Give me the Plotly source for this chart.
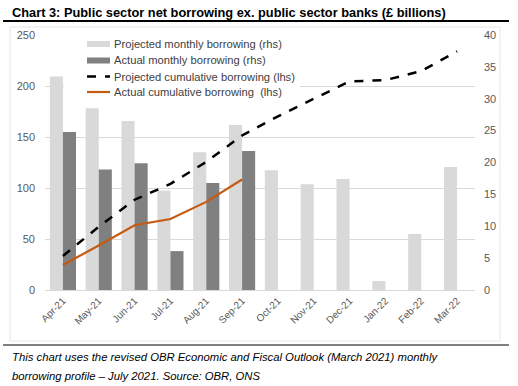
import plotly.graph_objects as go

months = ["Apr-21", "May-21", "Jun-21", "Jul-21", "Aug-21", "Sep-21",
          "Oct-21", "Nov-21", "Dec-21", "Jan-22", "Feb-22", "Mar-22"]
proj_monthly = [33.5, 28.5, 26.5, 15.6, 21.6, 25.9, 18.8, 16.6, 17.4, 1.4, 8.8, 19.3]
actual_monthly = [24.8, 18.9, 19.9, 6.1, 16.8, 21.8]
proj_cum = [33.4, 62.0, 88.5, 104.0, 125.6, 151.5, 170.3, 187.0, 204.5, 205.8, 214.6, 234.0]
actual_cum = [24.6, 43.6, 63.5, 69.6, 86.4, 108.3]

left_ticks = [0, 50, 100, 150, 200, 250]
right_ticks = [0, 5, 10, 15, 20, 25, 30, 35, 40]

names = ["Projected monthly borrowing (rhs)", "Actual monthly borrowing (rhs)",
         "Projected cumulative borrowing (lhs)", "Actual cumulative borrowing  (lhs)"]
colors = ["#D9D9D9", "#808080", "black", "#C55A11"]

TXT = "#595959"
FONT = "Liberation Sans, Arial, sans-serif"

# plot area in pixels
L, R, T, B = 45, 475, 35, 290
W, H = 518, 386
def px(x):
    return (x - L) / (R - L)
def py(y):
    return (B - y) / (B - T)

fig = go.Figure()
fig.add_trace(go.Bar(x=months, y=proj_monthly, name=names[0],
                     marker=dict(color=colors[0], line=dict(width=0)), yaxis="y"))
fig.add_trace(go.Bar(x=months[:len(actual_monthly)], y=actual_monthly, name=names[1],
                     marker=dict(color=colors[1], line=dict(width=0)), yaxis="y"))
fig.add_trace(go.Scatter(x=months, y=proj_cum, name=names[2],
                         mode="lines", line=dict(color=colors[2], width=2.5, dash="dash"), yaxis="y2"))
fig.add_trace(go.Scatter(x=months[:len(actual_cum)], y=actual_cum, name=names[3],
                         mode="lines", line=dict(color=colors[3], width=2.2), yaxis="y2"))

fig.update_layout(
    width=W, height=H,
    margin=dict(l=L, r=W - R, t=T, b=H - B, pad=0),
    paper_bgcolor="white", plot_bgcolor="white",
    barmode="group", bargap=0.27, bargroupgap=0,
    font=dict(family=FONT, size=11, color=TXT),
    showlegend=False,
    xaxis=dict(type="category", categoryorder="array", categoryarray=months,
               tickangle=-45, showgrid=False, showline=True, linecolor="#D9D9D9",
               linewidth=1, ticks="", tickfont=dict(size=10, color=TXT)),
    yaxis=dict(side="right", range=[0, 40], tickvals=right_ticks, showgrid=False,
               zeroline=False, showline=False, ticks="", ticklabelstandoff=8,
               tickfont=dict(size=11, color=TXT)),
    yaxis2=dict(side="left", overlaying="y", range=[0, 250], tickvals=left_ticks,
                showgrid=True, gridcolor="#D9D9D9", gridwidth=1, zeroline=False,
                showline=False, ticks="", ticklabelstandoff=9,
                tickfont=dict(size=11, color=TXT)),
)

# chart-area border, title rule and footer rule
fig.add_shape(type="rect", xref="paper", yref="paper",
              x0=px(10), x1=px(500), y0=py(341), y1=py(27),
              line=dict(color="#E6E6E6", width=1), fillcolor="rgba(0,0,0,0)", layer="below")
fig.add_shape(type="line", xref="paper", yref="paper",
              x0=px(3), x1=px(509), y0=py(21), y1=py(21), line=dict(color="black", width=2))
fig.add_shape(type="line", xref="paper", yref="paper",
              x0=px(3), x1=px(509), y0=py(345), y1=py(345), line=dict(color="black", width=1))

# legend (drawn by hand for Excel-like compact spacing)
fig.add_shape(type="rect", xref="paper", yref="paper", x0=px(64), x1=px(300), y0=py(101), y1=py(36),
              line=dict(width=0), fillcolor="white", layer="above")
rows = [44, 60.5, 76.5, 92]
sx0, sx1 = 87, 110
fig.add_shape(type="rect", xref="paper", yref="paper", x0=px(sx0), x1=px(sx1),
              y0=py(rows[0] + 3), y1=py(rows[0] - 3), line=dict(width=0), fillcolor=colors[0], layer="above")
fig.add_shape(type="rect", xref="paper", yref="paper", x0=px(sx0), x1=px(sx1),
              y0=py(rows[1] + 3), y1=py(rows[1] - 3), line=dict(width=0), fillcolor=colors[1], layer="above")
fig.add_shape(type="line", xref="paper", yref="paper", x0=px(sx0), x1=px(sx1),
              y0=py(rows[2]), y1=py(rows[2]), line=dict(color=colors[2], width=2.5, dash="dash"), layer="above")
fig.add_shape(type="line", xref="paper", yref="paper", x0=px(sx0), x1=px(sx1),
              y0=py(rows[3]), y1=py(rows[3]), line=dict(color=colors[3], width=2.2), layer="above")
for name, ry in zip(names, rows):
    fig.add_annotation(xref="paper", yref="paper", x=px(112), y=py(ry), xanchor="left", yanchor="middle",
                       showarrow=False, text=name, font=dict(family=FONT, size=11.2, color="#404040"))

fig.add_annotation(xref="paper", yref="paper", x=px(10), y=py(12), xanchor="left", yanchor="middle",
                   showarrow=False,
                   text="<b>Chart 3: Public sector net borrowing ex. public sector banks (£ billions)</b>",
                   font=dict(family=FONT, size=12.8, color="black"))
foot = ["This chart uses the revised OBR Economic and Fiscal Outlook (March 2021) monthly",
        "borrowing profile – July 2021. Source: OBR, ONS"]
for line, fy in zip(foot, [357, 376]):
    fig.add_annotation(xref="paper", yref="paper", x=px(10), y=py(fy), xanchor="left", yanchor="middle",
                       showarrow=False, text="<i>" + line + "</i>",
                       font=dict(family=FONT, size=11.3, color="black"))

fig.write_html("out.html", config={"displayModeBar": False},
               post_script="document.body.style.margin='0';document.body.style.padding='0';"
                           "document.documentElement.style.overflow='hidden';")
